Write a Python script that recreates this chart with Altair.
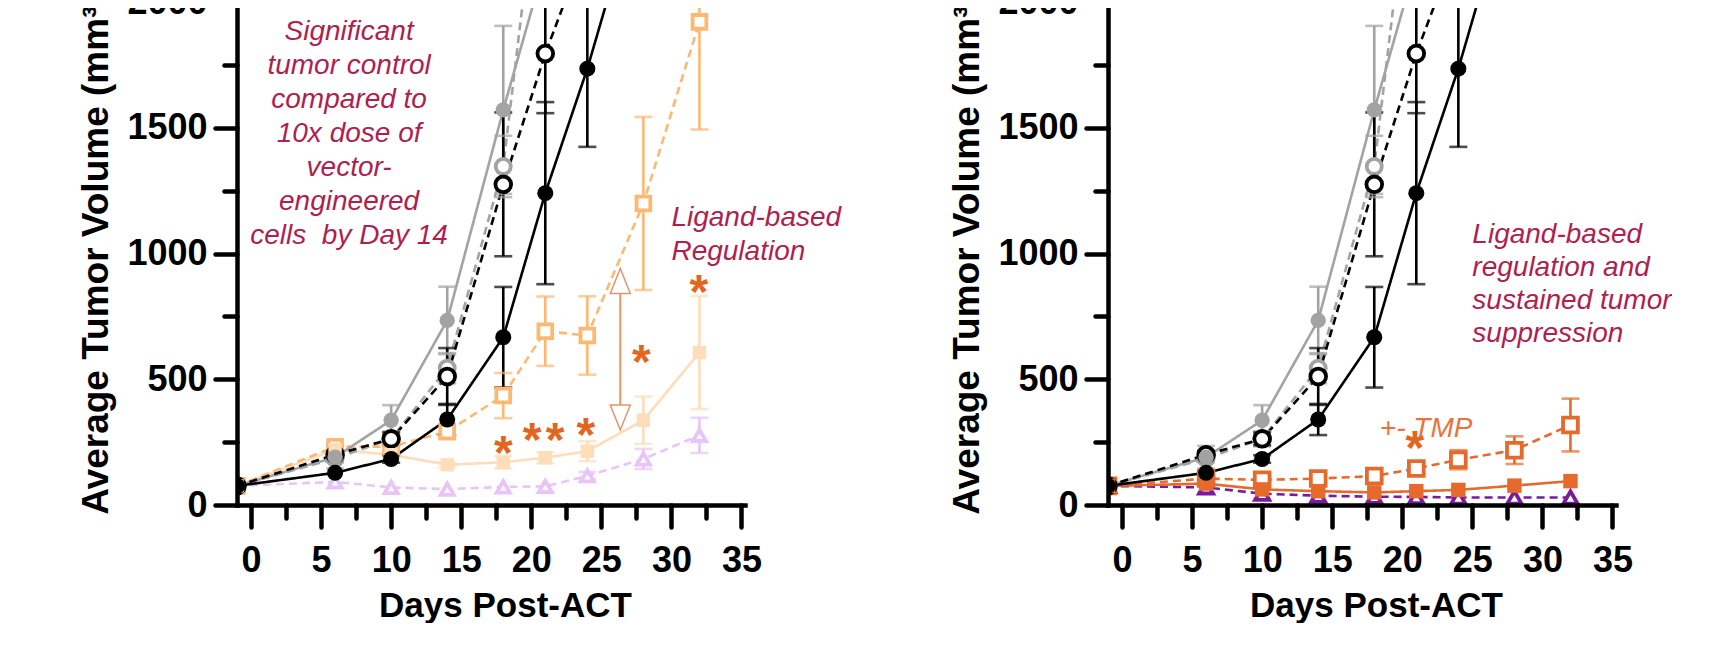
import altair as alt
import pandas as pd

# ---------------- data ----------------
days = [-1, 6, 10, 14, 18, 21, 24, 28, 32]

# control groups (identical in both panels)
black_filled     = [76, 128, 183, 340, 667, 1240, 1735, 2500, None]
black_filled_err = [0, 0, 15, 62, 200, 362, 311, 0, None]
black_open       = [76, 200, 263, 511, 1275, 1795, 2240, None, None]
black_open_err   = [0, 15, 25, 113, 286, 237, 0, None, None]
grey_filled      = [76, 190, 337, 734, 1571, 2160, None, None, None]
grey_filled_err  = [0, 45, 60, 134, 334, 0, None, None, None]
grey_open        = [76, 185, 263, 544, 1346, 2750, None, None, None]
grey_open_err    = [0, 15, 30, 60, 122, 0, None, None, None]

# left panel groups
lo_open_sq        = [76, 232, 232, 292, 435, 691, 674, 1199, 1921]
lo_open_sq_err    = [0, 10, 15, 30, 90, 138, 156, 344, 428]
vlo_filled_sq     = [76, 220, 200, 160, 170, 188, 214, 337, 606]
vlo_filled_sq_err = [0, 0, 10, 10, 25, 22, 40, 94, 225]
lilac_tri         = [76, 92, 70, 63, 72, 74, 116, 183, 277]
lilac_tri_err     = [0, 0, 0, 0, 0, 0, 15, 40, 70]

# right panel groups
org_open_sq       = [76, 105, 100, 105, 115, 145, 180, 218, 318]
org_open_sq_err   = [0, 10, 15, 20, 15, 20, 38, 55, 105]
org_filled_sq     = [76, 85, 62, 55, 50, 55, 60, 77, 95]
org_filled_sq_err = [0, 0, 0, 0, 0, 0, 0, 0, 0]
purple_tri        = [76, 70, 45, 37, 33, 32, 30, 30, 30]
purple_tri_err    = [0, 0, 0, 0, 0, 0, 0, 0, 0]

x_ticks = [0, 5, 10, 15, 20, 25, 30, 35]
x_minor = [2.5, 7.5, 12.5, 17.5, 22.5, 27.5, 32.5]
y_ticks = [0, 500, 1000, 1500, 2000]
y_minor = [250, 750, 1250, 1750]

left_star_days = [18, 20.05, 21.7, 23.9, 27.85, 31.95]
left_star_vals = [250, 303, 303, 323, 611, 890]
right_star_days = [20.9]
right_star_vals = [270]

left_note_lines = ["Significant", "tumor control", "compared to", "10x dose of",
                   "vector-", "engineered", "cells \u00a0by Day 14"]
left_note2_lines = ["Ligand-based", "Regulation"]
right_note_lines = ["Ligand-based", "regulation and", "sustained tumor", "suppression"]
tmp_label = "+- TMP"

# ---------------- styles ----------------
STYLE = {
    "lilac":        dict(color="#E9C4F6", dash=[8, 5], shape="triangle-up", filled=False, size=170),
    "vlo":          dict(color="#FEDDBA", dash=[1, 0], shape="square", filled=True, size=256),
    "lo":           dict(color="#FDB872", dash=[8, 5], shape="square", filled=False, size=180),
    "purple":       dict(color="#7B1A9E", dash=[8, 5], shape="triangle-up", filled=False, size=170),
    "org_filled":   dict(color="#E66A2C", dash=[1, 0], shape="square", filled=True, size=280),
    "org_open":     dict(color="#E66A2C", dash=[8, 5], shape="square", filled=False, size=175),
    "grey_open":    dict(color="#A3A3A3", dash=[8, 5], shape="circle", filled=False, size=160),
    "grey_filled":  dict(color="#A3A3A3", dash=[1, 0], shape="circle", filled=True, size=240),
    "black_open":   dict(color="#000000", dash=[8, 5], shape="circle", filled=False, size=160),
    "black_filled": dict(color="#000000", dash=[1, 0], shape="circle", filled=True, size=240),
}
ALL = list(STYLE.keys())

NOTE_COLOR = "#AF1F4F"
STAR_COLOR = "#E2661F"
ARROW_COLOR = "#E8926A"
FONT = "Liberation Sans"

xs = alt.Scale(domain=[-1, 35.25], nice=False, zero=False)
ys = alt.Scale(domain=[0, 2000], nice=False, zero=False)
cs = alt.Scale(domain=ALL, range=[STYLE[n]["color"] for n in ALL])
ds = alt.Scale(domain=ALL, range=[STYLE[n]["dash"] for n in ALL])
ss = alt.Scale(domain=ALL, range=[STYLE[n]["shape"] for n in ALL])
zs = alt.Scale(domain=ALL, range=[STYLE[n]["size"] for n in ALL])

W, H = 508, 503


def series_frame(entries):
    rows = []
    for order, (name, vals, errs) in enumerate(entries):
        for d, v, e in zip(days, vals, errs):
            if v is None:
                continue
            e = e or 0
            rows.append(dict(series=name, order=order, day=d, mean=v, err=e,
                             lo=v - e, hi=v + e,
                             filled=STYLE[name]["filled"]))
    return pd.DataFrame(rows)


def panel(entries, stars_d, stars_v, extras):
    df = series_frame(entries)
    base = alt.Chart(df)
    X = alt.X("day:Q", scale=xs, axis=None)
    Y = alt.Y("mean:Q", scale=ys, axis=None)
    col = alt.Color("series:N", scale=cs, legend=None)

    main_axes = base.mark_point(opacity=0, clip=True).encode(
        x=alt.X("day:Q", scale=xs, axis=alt.Axis(
            values=x_ticks, tickSize=22, labelPadding=16, title="Days Post-ACT",
            titlePadding=10, titleX=268, orient="bottom", zindex=1, format="d")),
        y=alt.Y("mean:Q", scale=ys, axis=alt.Axis(
            values=y_ticks, tickSize=22, labelPadding=8, format="d",
            title="Average Tumor Volume (mm³)", titlePadding=11, orient="left", zindex=1)),
    )
    minor_axes = base.mark_point(opacity=0, clip=True).encode(
        x=alt.X("day:Q", scale=xs, axis=alt.Axis(
            values=x_minor, tickSize=13, labels=False, domain=False, title=None,
            orient="bottom", zindex=1)),
        y=alt.Y("mean:Q", scale=ys, axis=alt.Axis(
            values=y_minor, tickSize=13, labels=False, domain=False, title=None,
            orient="left", zindex=1)),
    )
    lines = base.mark_line(strokeWidth=2.6, clip=True).encode(
        x=X, y=Y, color=col,
        strokeDash=alt.StrokeDash("series:N", scale=ds, legend=None),
        detail="series:N", order=alt.Order("day:Q"))
    bars = base.transform_filter("datum.err > 0").mark_rule(strokeWidth=2.6, clip=True).encode(
        x=X, y=alt.Y("lo:Q", scale=ys, axis=None), y2="hi:Q", color=col)
    caps = base.transform_filter("datum.err > 0").transform_fold(
        ["lo", "hi"], as_=["end", "yv"]).mark_tick(
        orient="horizontal", size=18, thickness=2.6, clip=True).encode(
        x=X, y=alt.Y("yv:Q", scale=ys, axis=None), color=col)
    filled_pts = base.transform_filter("datum.filled").mark_point(
        filled=True, opacity=1, clip=True).encode(
        x=X, y=Y, color=col,
        shape=alt.Shape("series:N", scale=ss, legend=None),
        size=alt.Size("series:N", scale=zs, legend=None))
    open_pts = base.transform_filter("!datum.filled").mark_point(
        filled=False, fill="white", fillOpacity=1, opacity=1, strokeWidth=3.8, clip=True).encode(
        x=X, y=Y, color=col,
        shape=alt.Shape("series:N", scale=ss, legend=None),
        size=alt.Size("series:N", scale=zs, legend=None))

    stars = alt.Chart(pd.DataFrame({"d": stars_d, "v": stars_v})).mark_text(
        text="*", font=FONT, fontSize=48, fontWeight="bold", color=STAR_COLOR,
        baseline="alphabetic", dy=27).encode(
        x=alt.X("d:Q", scale=xs, axis=None), y=alt.Y("v:Q", scale=ys, axis=None))

    layers = [main_axes, minor_axes, lines, bars, caps, open_pts, filled_pts, stars] + extras
    return alt.layer(*layers).resolve_axis(x="independent", y="independent").properties(
        width=W, height=H)


def note(lines, d, v, align, color=NOTE_COLOR, size=28, lh=34):
    return alt.Chart(pd.DataFrame({"d": [d], "v": [v]})).mark_text(
        text=lines, font=FONT, fontSize=size, fontStyle="italic", color=color,
        align=align, baseline="alphabetic", lineHeight=lh).encode(
        x=alt.X("d:Q", scale=xs, axis=None), y=alt.Y("v:Q", scale=ys, axis=None))


# arrow (left panel)
arrow_day = 26.35
arrow_top, arrow_bot = 940, 298
arrow_rule = alt.Chart(pd.DataFrame({"d": [arrow_day], "a": [860], "b": [380]})).mark_rule(
    color=ARROW_COLOR, strokeWidth=2).encode(
    x=alt.X("d:Q", scale=xs, axis=None), y=alt.Y("a:Q", scale=ys, axis=None), y2="b:Q")
arrow_up = alt.Chart(pd.DataFrame({"d": [arrow_day], "v": [arrow_top]})).mark_point(
    shape="M0,0L0.8,2L-0.8,2Z", size=625, fill="white", fillOpacity=1, stroke=ARROW_COLOR,
    strokeWidth=1.5, opacity=1).encode(
    x=alt.X("d:Q", scale=xs, axis=None), y=alt.Y("v:Q", scale=ys, axis=None))
arrow_down = alt.Chart(pd.DataFrame({"d": [arrow_day], "v": [arrow_bot]})).mark_point(
    shape="M0,0L0.8,-2L-0.8,-2Z", size=625, fill="white", fillOpacity=1, stroke=ARROW_COLOR,
    strokeWidth=1.5, opacity=1).encode(
    x=alt.X("d:Q", scale=xs, axis=None), y=alt.Y("v:Q", scale=ys, axis=None))

controls = [
    ("grey_open", grey_open, grey_open_err),
    ("grey_filled", grey_filled, grey_filled_err),
    ("black_open", black_open, black_open_err),
    ("black_filled", black_filled, black_filled_err),
]

left_entries = [
    ("lilac", lilac_tri, lilac_tri_err),
    ("vlo", vlo_filled_sq, vlo_filled_sq_err),
    ("lo", lo_open_sq, lo_open_sq_err),
] + controls

right_entries = [
    ("purple", purple_tri, purple_tri_err),
    ("org_filled", org_filled_sq, org_filled_sq_err),
    ("org_open", org_open_sq, org_open_sq_err),
] + controls

left = panel(left_entries, left_star_days, left_star_vals, [
    note(left_note_lines, 7.0, 1850, "center"),
    note(left_note2_lines, 30.0, 1110, "left"),
    arrow_rule, arrow_up, arrow_down,
])

right = panel(right_entries, right_star_days, right_star_vals, [
    note(right_note_lines, 25.0, 1042, "left", lh=33),
    note(tmp_label, 18.4, 272, "left", color="#E8743B"),
])

chart = alt.hconcat(left, right, spacing=363, bounds="flush").properties(
    padding={"left": 69, "top": -24, "right": 0, "bottom": 0}
).configure_view(stroke=None).configure_axis(
    labelFont=FONT, labelFontSize=36, labelFontWeight="bold", labelColor="black",
    titleFont=FONT, titleFontWeight="bold", titleColor="black",
    domainColor="black", tickColor="black", domainWidth=4.5, tickWidth=4.5,
    grid=False, tickCap="round", domainCap="square", labelFlush=False, labelOverlap=False,
).configure_axisX(titleFontSize=35).configure_axisY(titleFontSize=37)

chart.save("out.html", embed_options={"renderer": "svg", "actions": False})
